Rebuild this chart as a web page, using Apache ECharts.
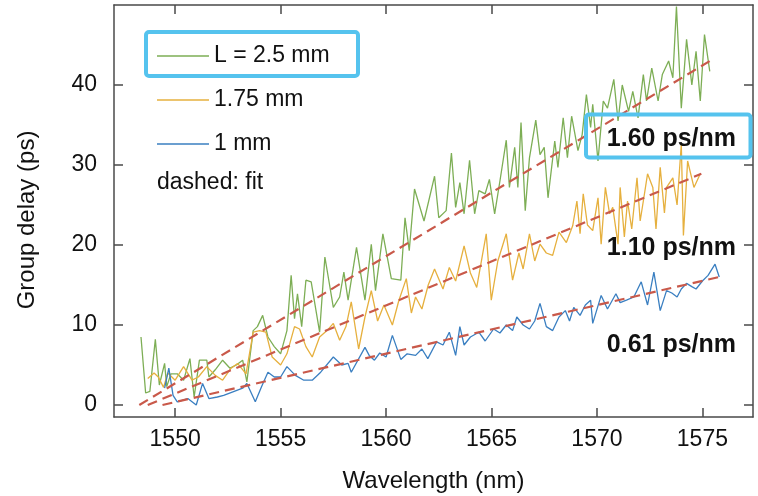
<!DOCTYPE html>
<html>
<head>
<meta charset="utf-8">
<script src="https://cdn.jsdelivr.net/npm/echarts@6/dist/echarts.min.js"></script>
<style>html,body{margin:0;padding:0;background:#fff}#c{width:758px;height:496px}</style>
</head>
<body>
<div id="c"></div>
<script>
// ---- data ----
const seriesNames = ['L = 2.5 mm', '1.75 mm', '1 mm'];
const xTicks = [1550, 1555, 1560, 1565, 1570, 1575];
const yTicks = [0, 10, 20, 30, 40];
const slopeLabels = ['1.60 ps/nm', '1.10 ps/nm', '0.61 ps/nm'];

const greenX = [1548.38,1548.6,1548.8,1549.06,1549.25,1549.5,1549.6,1549.8,1550.1,1550.4,1550.7,1550.9,1551.15,1551.5,1551.6,1551.9,1552.25,1552.6,1552.9,1553.2,1553.4,1553.7,1553.9,1554.15,1554.4,1554.7,1555.0,1555.3,1555.5,1555.66,1555.8,1556.0,1556.2,1556.45,1556.85,1557.1,1557.5,1557.8,1558.0,1558.2,1558.6,1559.0,1559.3,1559.5,1559.85,1560.25,1560.7,1560.9,1561.1,1561.35,1561.8,1562.3,1562.5,1562.85,1563.1,1563.3,1563.5,1563.7,1563.96,1564.2,1564.4,1564.7,1564.9,1565.15,1565.4,1565.7,1565.85,1566.1,1566.25,1566.4,1566.6,1566.8,1567.1,1567.3,1567.5,1567.68,1568.0,1568.15,1568.4,1568.6,1568.8,1569.1,1569.3,1569.5,1569.7,1569.8,1570.05,1570.3,1570.5,1570.8,1571.0,1571.2,1571.5,1571.7,1571.95,1572.2,1572.35,1572.6,1572.9,1573.1,1573.4,1573.6,1573.77,1574.0,1574.25,1574.5,1574.7,1574.9,1575.1,1575.35];
const greenY = [8.5,1.5,1.7,8.2,2.5,5.2,2.3,3.9,3.9,3.1,5.8,1.0,5.6,5.6,3.5,4.4,5.6,4.6,5.0,5.6,2.9,9.3,9.8,11.2,8.5,7.3,6.4,9.3,16.2,10.8,13.9,9.8,15.6,15.4,9.1,18.5,12.2,13.5,16.6,13.1,19.7,13.1,20.1,14.3,21.4,15.8,15.6,23.4,19.3,27.0,23.0,28.6,23.4,24.3,31.5,24.7,27.8,23.9,30.6,23.9,26.8,26.4,28.2,23.9,28.0,33.1,27.2,32.2,27.2,35.3,24.3,30.9,35.6,31.3,32.2,25.9,33.0,29.7,35.9,30.9,36.1,31.8,33.8,38.8,34.7,37.6,30.5,38.0,37.1,40.7,35.5,40.0,36.7,39.2,35.9,41.3,38.0,42.1,38.0,41.3,43.0,40.9,49.8,37.1,45.7,40.0,44.2,38.0,46.3,41.7];

const orangeX = [1548.7,1549.0,1549.2,1549.45,1549.65,1550.0,1550.4,1550.8,1551.1,1551.5,1551.9,1552.25,1552.65,1552.96,1553.36,1553.7,1554.0,1554.3,1554.6,1555.0,1555.3,1555.66,1555.9,1556.2,1556.5,1556.85,1557.2,1557.5,1557.8,1558.1,1558.35,1558.7,1559.0,1559.3,1559.6,1559.9,1560.3,1560.6,1560.96,1561.2,1561.4,1561.7,1562.0,1562.3,1562.7,1563.0,1563.3,1563.7,1564.0,1564.3,1564.75,1564.99,1565.3,1565.7,1566.0,1566.3,1566.5,1566.8,1567.05,1567.3,1567.6,1567.9,1568.2,1568.55,1568.85,1569.05,1569.2,1569.35,1569.55,1569.8,1570.05,1570.2,1570.4,1570.6,1570.75,1571.0,1571.1,1571.3,1571.45,1571.65,1571.9,1572.05,1572.2,1572.4,1572.65,1572.8,1573.0,1573.2,1573.3,1573.6,1573.8,1574.0,1574.1,1574.3,1574.6,1574.9];
const orangeY = [3.3,4.0,3.5,2.2,4.0,3.1,4.8,3.1,3.5,4.8,3.7,3.1,4.6,5.2,3.9,9.1,9.3,9.1,6.0,5.0,6.4,9.8,9.5,7.3,6.0,8.5,9.3,10.2,8.1,9.8,12.9,7.0,11.0,14.3,10.5,12.5,10.0,13.0,15.8,11.5,13.5,12.0,15.0,17.0,14.5,17.2,15.5,19.9,16.5,14.7,21.4,13.1,18.0,21.4,15.6,19.0,17.0,21.4,18.0,20.1,19.0,18.7,21.6,20.3,22.4,25.5,21.4,26.4,22.5,21.8,25.9,20.1,27.2,23.9,24.7,20.1,27.2,21.0,25.5,22.0,28.4,23.0,25.5,28.9,27.2,22.0,29.7,24.0,27.2,28.4,25.0,32.6,21.2,30.5,27.2,28.9];

const blueX = [1549.5,1549.7,1549.9,1550.1,1550.6,1551.0,1551.3,1551.6,1552.0,1552.3,1552.8,1553.2,1553.4,1553.8,1554.1,1554.4,1554.7,1555.0,1555.3,1555.7,1556.1,1556.5,1556.9,1557.5,1557.9,1558.2,1558.35,1559.0,1559.2,1559.45,1559.7,1560.0,1560.3,1560.7,1561.0,1561.4,1561.7,1561.98,1562.4,1562.7,1563.0,1563.3,1563.5,1563.7,1564.0,1564.4,1564.7,1565.1,1565.4,1565.7,1566.0,1566.2,1566.5,1566.8,1567.05,1567.3,1567.6,1567.9,1568.2,1568.5,1568.7,1568.9,1569.2,1569.45,1569.7,1569.8,1570.2,1570.5,1570.9,1571.1,1571.4,1571.75,1572.1,1572.4,1572.7,1573.0,1573.3,1573.55,1573.8,1574.0,1574.25,1574.5,1574.7,1575.0,1575.27,1575.6,1575.8];
const blueY = [2.1,4.6,1.2,0.4,0.8,0.0,2.7,0.8,1.0,1.2,1.7,2.1,2.7,0.4,2.3,4.1,3.5,3.5,4.8,3.7,3.1,3.1,4.1,6.0,5.0,5.2,4.1,7.2,6.2,5.6,6.5,6.0,8.7,5.7,6.4,6.2,7.0,5.8,7.9,7.5,9.1,6.2,9.8,7.5,8.5,9.1,8.0,9.5,9.0,10.0,9.3,11.0,10.0,9.5,10.5,12.7,9.8,9.3,11.0,11.8,10.5,12.2,11.2,12.5,13.1,10.2,13.7,12.0,13.9,12.8,13.1,13.5,15.4,12.5,16.6,11.8,14.3,14.0,13.5,14.5,15.2,14.8,14.5,15.5,16.2,17.6,16.0];

// linear fits (endpoints)
const fitGreenX = [1548.3, 1575.35], fitGreenY = [0, 43.0];
const fitOrangeX = [1548.7, 1574.95], fitOrangeY = [0, 28.9];
const fitBlueX = [1549.4, 1575.8], fitBlueY = [0, 16.0];

// ---- styling ----
const FONT = '"Liberation Sans", Arial, Helvetica, sans-serif';
const colors = ['#7dae55', '#e6b03e', '#3a7fc1'];
const fitColor = '#c9594a';
const axisColor = '#4a4a4a';
const textColor = '#111';

function pairs(xs, ys) { const n = Math.min(xs.length, ys.length); const out = []; for (let i = 0; i < n; i++) out.push([xs[i], ys[i]]); return out; }

const chart = echarts.init(document.getElementById('c'), null, {renderer: 'canvas'});

const axisLineStyle = {show: true, onZero: false, lineStyle: {color: axisColor, width: 1.5}};
const tickStyle = (vals) => ({show: true, inside: true, length: 9, customValues: vals, lineStyle: {color: axisColor, width: 1.5}});

function dataSeries(name, data, color) {
  return {name, type: 'line', data, symbol: 'none', showSymbol: false, animation: false, z: 2,
    lineStyle: {color, width: 1.3}, itemStyle: {color}};
}
function fitSeries(name, data) {
  return {name, type: 'line', data, symbol: 'none', showSymbol: false, animation: false, z: 5,
    lineStyle: {color: fitColor, width: 2.2, type: [10, 6]}, itemStyle: {color: fitColor}};
}

const option = {
  backgroundColor: '#fff',
  animation: false,
  textStyle: {fontFamily: FONT},
  grid: {left: 114, right: 5, top: 5, bottom: 79, containLabel: false, outerBoundsMode: 'none'},
  xAxis: [{
    type: 'value', min: 1547.1, max: 1577.4, position: 'bottom',
    axisLine: axisLineStyle, axisTick: tickStyle(xTicks), splitLine: {show: false},
    axisLabel: {show: true, customValues: xTicks, margin: 11, fontSize: 23, color: textColor, fontFamily: FONT, formatter: v => String(v)},
    name: 'Wavelength (nm)', nameLocation: 'middle', nameGap: 52,
    nameTextStyle: {fontSize: 24, color: textColor, fontFamily: FONT}
  }, {
    type: 'value', min: 1547.1, max: 1577.4, position: 'top',
    axisLine: axisLineStyle, axisTick: tickStyle(xTicks), splitLine: {show: false},
    axisLabel: {show: false}
  }],
  yAxis: [{
    type: 'value', min: -1.5, max: 50, position: 'left',
    axisLine: axisLineStyle, axisTick: tickStyle(yTicks), splitLine: {show: false},
    axisLabel: {show: true, customValues: yTicks, margin: 17, fontSize: 23, color: textColor, fontFamily: FONT},
    name: 'Group delay (ps)', nameLocation: 'middle', nameGap: 75,
    nameTextStyle: {fontSize: 24, color: textColor, fontFamily: FONT, padding: [0, 18, 0, 0]}
  }, {
    type: 'value', min: -1.5, max: 50, position: 'right',
    axisLine: axisLineStyle, axisTick: tickStyle(yTicks), splitLine: {show: false},
    axisLabel: {show: false}
  }],
  legend: {
    data: seriesNames, orient: 'vertical', left: 157, top: 44, padding: 0,
    icon: 'rect', itemWidth: 52, itemHeight: 1.6, itemGap: 20,
    textStyle: {fontSize: 23, color: textColor, fontFamily: FONT, lineHeight: 24, padding: [0, 0, 0, 0]},
    selectedMode: false
  },
  series: [
    dataSeries(seriesNames[0], pairs(greenX, greenY), colors[0]),
    dataSeries(seriesNames[1], pairs(orangeX, orangeY), colors[1]),
    dataSeries(seriesNames[2], pairs(blueX, blueY), colors[2]),
    fitSeries('fit ' + seriesNames[0], pairs(fitGreenX, fitGreenY)),
    fitSeries('fit ' + seriesNames[1], pairs(fitOrangeX, fitOrangeY)),
    fitSeries('fit ' + seriesNames[2], pairs(fitBlueX, fitBlueY))
  ],
  graphic: [
    {type: 'text', x: 157, y: 183, z: 100, style: {text: 'dashed: fit', font: '23px ' + FONT, fill: textColor, align: 'left', verticalAlign: 'middle'}},
    {type: 'text', x: 736, y: 139, z: 100, style: {text: slopeLabels[0], font: 'bold 25px ' + FONT, fill: textColor, align: 'right', verticalAlign: 'middle'}},
    {type: 'text', x: 736, y: 248, z: 100, style: {text: slopeLabels[1], font: 'bold 25px ' + FONT, fill: textColor, align: 'right', verticalAlign: 'middle'}},
    {type: 'text', x: 736, y: 345, z: 100, style: {text: slopeLabels[2], font: 'bold 25px ' + FONT, fill: textColor, align: 'right', verticalAlign: 'middle'}},
    {type: 'rect', z: 101, shape: {x: 146, y: 32, width: 212, height: 44, r: 3}, style: {fill: 'none', stroke: '#55c3ee', lineWidth: 4}},
    {type: 'rect', z: 101, shape: {x: 586, y: 114.5, width: 164.5, height: 43, r: 3}, style: {fill: 'none', stroke: '#55c3ee', lineWidth: 4}}
  ]
};
chart.setOption(option);
</script>
</body>
</html>
